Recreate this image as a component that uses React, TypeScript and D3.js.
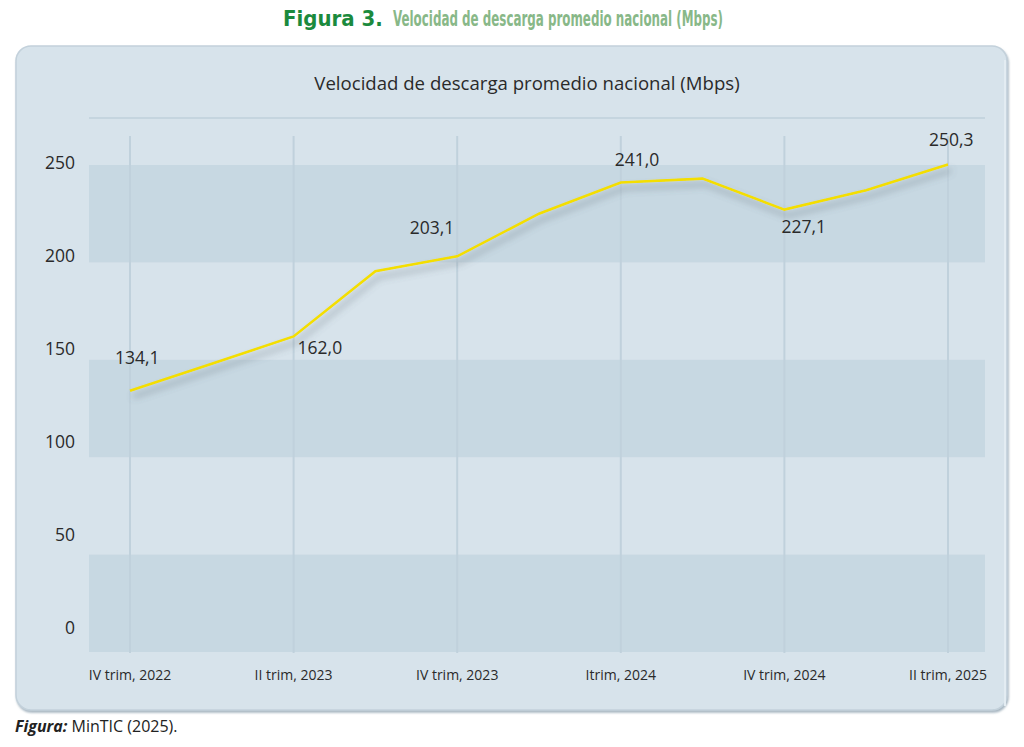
import React from "react";
import * as d3 from "d3";

const categories = [
  "IV trim, 2022", "I trim, 2023", "II trim, 2023", "III trim, 2023", "IV trim, 2023",
  "I trim, 2024", "II trim, 2024", "III trim, 2024", "IV trim, 2024", "I trim, 2025", "II trim, 2025",
];
const speedValues = [134.1, 148.0, 162.0, 195.5, 203.1, 225.0, 241.0, 243.0, 227.1, 237.0, 250.3];
const xTickLabels = ["IV trim, 2022", "II trim, 2023", "IV trim, 2023", "Itrim, 2024", "IV trim, 2024", "II trim, 2025"];
const xTickIndex = [0, 2, 4, 6, 8, 10];
const yTicks = [0, 50, 100, 150, 200, 250];
const labelledIndex = [0, 2, 4, 6, 8, 10];
const labelTexts = ["134,1", "162,0", "203,1", "241,0", "227,1", "250,3"];
// label placement relative to its point: [dx, dy, anchor]
const labelPlacement: [number, number, string][] = [
  [-15, -27, "start"], [4, 18, "start"], [-3, -22, "end"],
  [-6, -17, "start"], [-3, 23, "start"], [-19, -18, "start"],
];
const bandRanges: [number, number][] = [[0, 50], [100, 150], [200, 250]];

const W = 1024, H = 747;
const plotLeft = 89, plotRight = 985, plotTopY = 118;

export default function App() {
  const x = d3.scalePoint<string>().domain(categories).range([130, 948]);
  const y = d3.scaleLinear().domain([0, 250]).range([652, 165]);
  const yLabel = d3.scaleLinear().domain([0, 250]).range([634, 169]);
  const line = d3.line<number>()
    .x((_, i) => x(categories[i]) as number)
    .y((d) => y(d));
  const font = "'Open Sans', 'Noto Sans', sans-serif";
  const headFont = "'Liberation Sans Narrow', 'DejaVu Sans Condensed', 'Roboto', sans-serif";

  return (
    <svg width={W} height={H} style={{ position: "absolute", left: 0, top: 0, background: "#ffffff" }}>
      <defs>
        <filter id="shadow" x="-10%" y="-30%" width="120%" height="160%">
          <feGaussianBlur in="SourceAlpha" stdDeviation="3.5" />
          <feOffset dx="3" dy="6" result="b" />
          <feFlood floodColor="#55606a" floodOpacity="0.5" />
          <feComposite in2="b" operator="in" />
          <feMerge>
            <feMergeNode />
            <feMergeNode in="SourceGraphic" />
          </feMerge>
        </filter>
        <filter id="panelShadow" x="-5%" y="-5%" width="110%" height="110%">
          <feGaussianBlur in="SourceAlpha" stdDeviation="1.2" />
          <feOffset dx="1" dy="2" result="b" />
          <feFlood floodColor="#8fa2b0" floodOpacity="0.8" />
          <feComposite in2="b" operator="in" />
          <feMerge>
            <feMergeNode />
            <feMergeNode in="SourceGraphic" />
          </feMerge>
        </filter>
      </defs>

      {/* Figure heading */}
      <text x={283} y={26} fontFamily={headFont} fontWeight="bold"
        fontSize={22} fill="#1b8a3d">Figura 3.</text>
      <text x={393} y={26} fontFamily={headFont} fontWeight="bold"
        fontSize={22} fill="#88b888" textLength={330} lengthAdjust="spacingAndGlyphs">Velocidad de descarga promedio nacional (Mbps)</text>

      {/* Panel */}
      <rect x={16} y={46} width={991} height={664} rx={15} ry={15} fill="#d7e3eb" stroke="#c3d1db" strokeWidth={1.5} filter="url(#panelShadow)" />
      <line x1={1005} x2={1005} y1={60} y2={706} stroke="#e3ecf2" strokeWidth={2} />

      <text x={527} y={90} textAnchor="middle" fontFamily={font} fontSize={18.6} fill="#2a2a2a">
        Velocidad de descarga promedio nacional (Mbps)
      </text>

      {/* top border line of plot */}
      <line x1={plotLeft} x2={plotRight} y1={plotTopY} y2={plotTopY} stroke="#c5d5df" strokeWidth={2} />

      {/* bands */}
      {bandRanges.map(([a, b], i) => (
        <rect key={i} x={plotLeft} width={plotRight - plotLeft} y={y(b)} height={y(a) - y(b)} fill="#c7d8e2" />
      ))}

      {/* vertical gridlines */}
      {xTickIndex.map((ci) => (
        <line key={ci} x1={x(categories[ci])} x2={x(categories[ci])} y1={136} y2={653} stroke="#c0d1dc" strokeWidth={2} />
      ))}

      {/* y tick labels */}
      {yTicks.map((t) => (
        <text key={t} x={75} y={yLabel(t)} textAnchor="end" fontFamily={font} fontSize={17.5} fill="#2a2a2a">{t}</text>
      ))}

      {/* x tick labels */}
      {xTickIndex.map((ci, i) => (
        <text key={ci} x={x(categories[ci])} y={680} textAnchor="middle" fontFamily={font} fontSize={14} fill="#2a2a2a">
          {xTickLabels[i]}
        </text>
      ))}

      {/* line */}
      <path d={line(speedValues) || ""} fill="none" stroke="#f4de00" strokeWidth={2.6} strokeLinejoin="miter" filter="url(#shadow)" />

      {/* data labels */}
      {labelledIndex.map((ci, i) => {
        const [dx, dy, anchor] = labelPlacement[i];
        return (
          <text key={ci} x={(x(categories[ci]) as number) + dx} y={y(speedValues[ci]) + dy}
            textAnchor={anchor} fontFamily={font} fontSize={17.5} fill="#2a2a2a">{labelTexts[i]}</text>
        );
      })}

      {/* footer */}
      <text x={15} y={732} fontFamily={font} fontSize={16} fill="#222">
        <tspan fontWeight="bold" fontStyle="italic">Figura:</tspan>
        <tspan> MinTIC (2025).</tspan>
      </text>
    </svg>
  );
}
